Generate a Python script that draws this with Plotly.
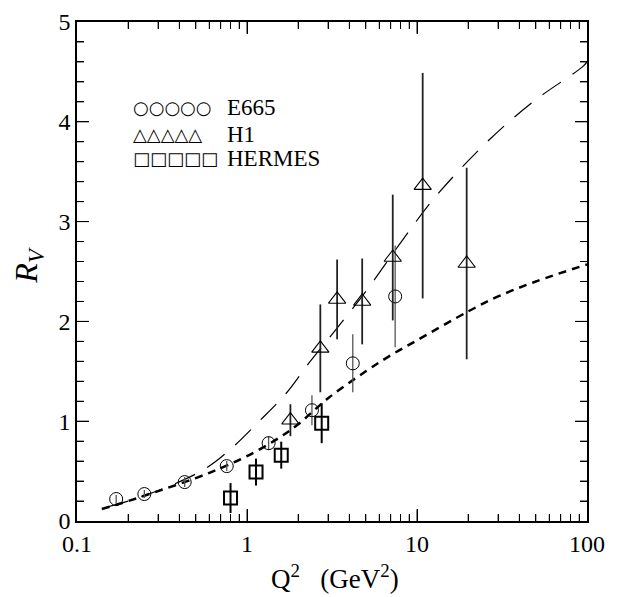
import plotly.graph_objects as go

# E665
e665_x = [0.170, 0.249, 0.430, 0.76, 1.34, 2.41, 4.19, 7.44]
e665_y = [0.22, 0.27, 0.39, 0.55, 0.78, 1.11, 1.58, 2.25]
e665_err = [0.04, 0.04, 0.05, 0.05, 0.07, 0.15, 0.29, 0.51]

# H1
h1_x = [1.80, 2.70, 3.39, 4.76, 7.2, 10.8, 19.6]
h1_y = [1.01, 1.73, 2.22, 2.20, 2.64, 3.36, 2.58]
h1_err = [0.16, 0.44, 0.40, 0.43, 0.63, 1.13, 0.96]

# HERMES
her_x = [0.80, 1.13, 1.59, 2.75]
her_y = [0.23, 0.49, 0.66, 0.98]
her_err = [0.15, 0.135, 0.135, 0.20]

# model curves
short_x = [0.14, 0.2, 0.3, 0.5, 0.7, 1, 1.5, 2, 3, 5, 7, 10, 20, 30, 50, 100]
short_y = [0.12, 0.2, 0.3, 0.43, 0.53, 0.65, 0.82, 0.97, 1.23, 1.50, 1.66, 1.81, 2.10, 2.25, 2.40, 2.57]
long_x = [0.15, 0.2, 0.35, 0.575, 0.825, 1.18, 1.7, 2.33, 3.27, 5, 8.26, 13, 27, 49, 94, 100]
long_y = [0.14, 0.2, 0.35, 0.53, 0.74, 1.0, 1.28, 1.59, 1.9, 2.3, 2.82, 3.26, 3.83, 4.21, 4.55, 4.6]

x_tickvals = [0.1, 1, 10, 100]
x_ticktext = ["0.1", "1", "10", "100"]
x_minor = [m * d for d in (0.1, 1, 10) for m in range(2, 10)]
y_tickvals = [0, 1, 2, 3, 4, 5]
y_minor = [round(i * 0.2, 1) for i in range(26) if i % 5]

FONT = "Liberation Serif"

W, H = 634, 597
L, R, T, B = 77, 47, 9, 76
pw, ph = W - L - R, H - T - B
MAJ, MIN = 12, 7

fig = go.Figure()
fig.add_trace(go.Scatter(x=long_x, y=long_y, mode="lines", line_shape="spline",
                         line=dict(color="black", width=1.2, dash="22px,14px"), showlegend=False))
fig.add_trace(go.Scatter(x=short_x, y=short_y, mode="lines", line_shape="spline",
                         line=dict(color="black", width=2.5, dash="8px,6px"), showlegend=False))
fig.add_trace(go.Scatter(x=e665_x, y=e665_y, mode="markers",
                         marker=dict(symbol="circle-open", size=13, color="black", line=dict(width=1)),
                         error_y=dict(type="data", array=e665_err, width=0, thickness=1.3, color="#555"),
                         showlegend=False))
fig.add_trace(go.Scatter(x=h1_x, y=h1_y, mode="markers",
                         marker=dict(symbol="triangle-up-open", size=15, color="black", line=dict(width=1.1)),
                         error_y=dict(type="data", array=h1_err, width=0, thickness=1.8, color="#222"),
                         showlegend=False))
fig.add_trace(go.Scatter(x=her_x, y=her_y, mode="markers",
                         marker=dict(symbol="square-open", size=13, color="black", line=dict(width=2)),
                         error_y=dict(type="data", array=her_err, width=0, thickness=2, color="black"),
                         showlegend=False))

# legend drawn as text
legend_rows = [("○○○○○", "E665", 97), ("△△△△△", "H1", 124), ("□□□□□", "HERMES", 149)]
for sym, lab, py in legend_rows:
    yy = 1 - (py - T) / ph
    fig.add_annotation(x=(131 - L) / pw, y=yy, xref="paper", yref="paper", text=sym,
                       showarrow=False, xanchor="left", yanchor="middle",
                       font=dict(family="DejaVu Sans", size=18, color="black"))
    fig.add_annotation(x=(225 - L) / pw, y=yy, xref="paper", yref="paper", text=lab,
                       showarrow=False, xanchor="left", yanchor="middle",
                       font=dict(family=FONT, size=23, color="black"))

# axis titles as annotations
fig.add_annotation(x=(335 - L) / pw, y=1 - (578 - T) / ph, xref="paper", yref="paper",
                   text="Q<sup>2</sup>   (GeV<sup>2</sup>)", showarrow=False,
                   xanchor="center", yanchor="middle", font=dict(family=FONT, size=27, color="black"))
fig.add_annotation(x=(29 - L) / pw, y=1 - (259 - T) / ph, xref="paper", yref="paper",
                   text="<i>R</i><sub><i>V</i></sub>", showarrow=False, textangle=-90,
                   xanchor="center", yanchor="middle", font=dict(family=FONT, size=32, color="black"))

# inward ticks on all four sides (drawn as shapes at the axis tick values)
tick_line = dict(color="black", width=1)
for v, ln in [(v, MAJ) for v in x_tickvals[1:-1]] + [(v, MIN) for v in x_minor]:
    fig.add_shape(type="line", xref="x", yref="paper", x0=v, x1=v, y0=0, y1=ln / ph, line=tick_line, layer="above")
    fig.add_shape(type="line", xref="x", yref="paper", x0=v, x1=v, y0=1 - ln / ph, y1=1, line=tick_line, layer="above")
for v, ln in [(v, MAJ) for v in y_tickvals[1:-1]] + [(v, MIN) for v in y_minor]:
    fig.add_shape(type="line", xref="paper", yref="y", x0=0, x1=ln / pw, y0=v, y1=v, line=tick_line, layer="above")
    fig.add_shape(type="line", xref="paper", yref="y", x0=1 - ln / pw, x1=1, y0=v, y1=v, line=tick_line, layer="above")

fig.update_layout(
    width=W, height=H, margin=dict(l=L, r=R, t=T, b=B),
    paper_bgcolor="white", plot_bgcolor="white",
    font=dict(family=FONT, size=24, color="black"),
)
fig.update_xaxes(type="log", range=[-1, 2], tickmode="array", tickvals=x_tickvals, ticktext=x_ticktext,
                 ticks="inside", ticklen=MAJ, tickwidth=1, tickcolor="black", ticklabeloverflow="allow",
                 showline=True, linecolor="black", linewidth=1.5, mirror="allticks",
                 showgrid=False, zeroline=False,
                 minor=dict(ticks="inside", ticklen=MIN, tickcolor="black", tickwidth=1,
                            tickmode="array", tickvals=x_minor))
fig.update_yaxes(range=[0, 5], tickmode="array", tickvals=y_tickvals,
                 ticks="inside", ticklen=MAJ, tickwidth=1, tickcolor="black", ticklabeloverflow="allow",
                 showline=True, linecolor="black", linewidth=1.5, mirror="allticks",
                 showgrid=False, zeroline=False,
                 minor=dict(ticks="inside", ticklen=MIN, tickcolor="black", tickwidth=1,
                            tickmode="array", tickvals=y_minor))

fig.write_html("out.html")
